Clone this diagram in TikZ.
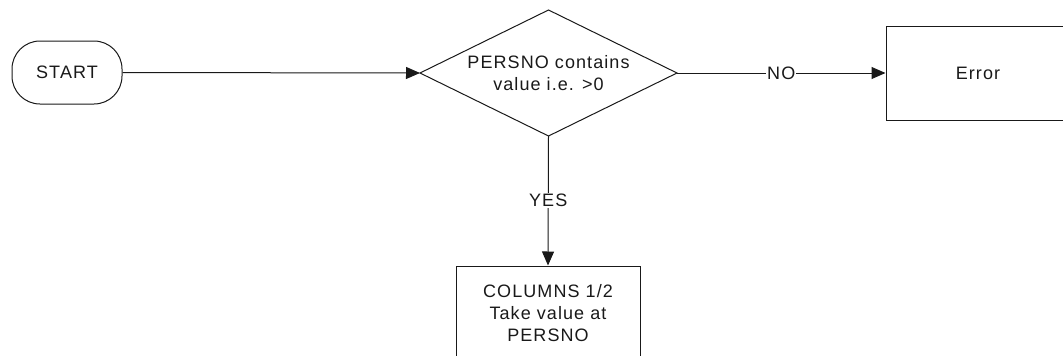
\documentclass[tikz,border=0pt]{standalone}
\usepackage{fontspec}
\setmainfont{Liberation Sans}[LetterSpace=6]
\usetikzlibrary{shapes.geometric,arrows.meta}
\begin{document}
\begin{tikzpicture}[x=1pt,y=-1pt,
  every node/.style={font=\fontsize{18}{22}\selectfont, text=black!90},
  conn/.style={line width=1pt, draw=black!90},
  arr/.style={conn, -{Triangle[length=14pt,width=12pt]}},
  terminal/.style={draw=black!90, line width=1pt, rounded corners=28pt, minimum width=110pt, minimum height=63pt, inner sep=0pt},
  decision/.style={draw=black!90, line width=1pt, diamond, aspect=2, minimum width=257pt, minimum height=126pt, inner sep=0pt, outer sep=0pt, align=center},
  procbox/.style={draw=black!90, line width=1pt, minimum width=184pt, minimum height=94pt, inner sep=0pt, align=center},
  lbl/.style={fill=white, inner sep=1pt}]
\useasboundingbox (0,0) rectangle (1063,356);
\clip (0,0) rectangle (1063,356);
\node[terminal] (start) at (67,72.5) {START};
\node[decision] (dec) at (548.5,73) {PERSNO contains\\value i.e. >0};
\node[procbox] (err) at (978,73) {Error};
\node[procbox] (col) at (548,313) {COLUMNS 1/2\\Take value at\\PERSNO};
\draw[arr] (start.east) -- (dec.west);
\draw[arr] (dec.east) -- node[lbl] {NO} (err.west);
\draw[arr] (dec.south) -- node[lbl, pos=0.5] {YES} (col.north);
\end{tikzpicture}
\end{document}
